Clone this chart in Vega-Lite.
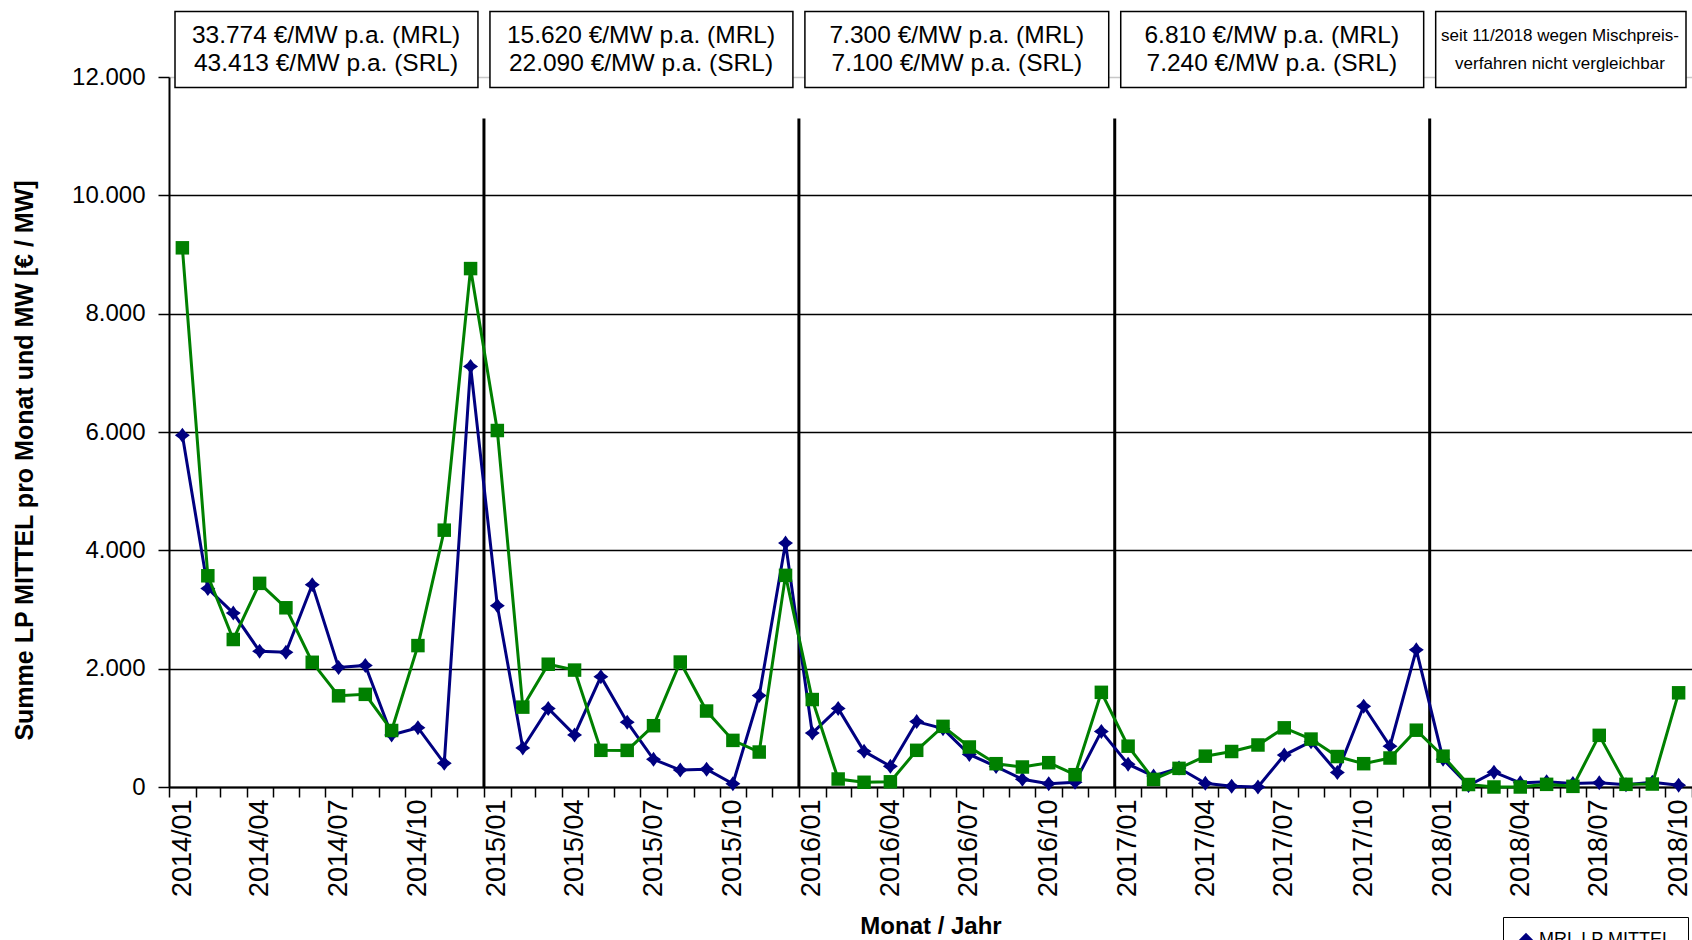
{
  "$schema": "https://vega.github.io/schema/vega-lite/v6.json",
  "width": 1523,
  "height": 710,
  "autosize": {"type": "none"},
  "padding": {"left": 169, "top": 77, "right": 0, "bottom": 153},
  "background": "white",
  "config": {
    "view": {"stroke": null},
    "font": "Liberation Sans",
    "axis": {"domainColor": "black", "tickColor": "black", "labelColor": "black", "titleColor": "black", "labelFont": "Liberation Sans", "titleFont": "Liberation Sans"},
    "axisX": {"domainWidth": 2, "tickWidth": 1.5, "tickSize": 10, "labelFontSize": 27, "labelAngle": -90, "labelPadding": 2, "grid": false, "titleFontSize": 24, "titleFontWeight": "bold", "titleY": 139, "titleBaseline": "middle", "labelOverlap": false, "labelBound": false, "labelFlush": false, "labelOffset": 13},
    "axisY": {"domainWidth": 2, "tickWidth": 1.5, "tickSize": 11, "labelFontSize": 24, "labelPadding": 13, "grid": true, "gridWidth": 1.5, "titleFontSize": 25, "titleFontWeight": "bold", "titleX": -145, "titleY": 383, "titleBaseline": "middle", "titleAlign": "center"}
  },
  "datasets": {
    "months": [
      {"date": "2014-01", "mrl": 5945, "srl": 9113},
      {"date": "2014-02", "mrl": 3355, "srl": 3570},
      {"date": "2014-03", "mrl": 2940, "srl": 2493},
      {"date": "2014-04", "mrl": 2295, "srl": 3442},
      {"date": "2014-05", "mrl": 2277, "srl": 3029},
      {"date": "2014-06", "mrl": 3420, "srl": 2108},
      {"date": "2014-07", "mrl": 2020, "srl": 1541},
      {"date": "2014-08", "mrl": 2055, "srl": 1566},
      {"date": "2014-09", "mrl": 880, "srl": 955},
      {"date": "2014-10", "mrl": 1002, "srl": 2390},
      {"date": "2014-11", "mrl": 401, "srl": 4341},
      {"date": "2014-12", "mrl": 7108, "srl": 8762},
      {"date": "2015-01", "mrl": 3065, "srl": 6025},
      {"date": "2015-02", "mrl": 660, "srl": 1350},
      {"date": "2015-03", "mrl": 1327, "srl": 2075},
      {"date": "2015-04", "mrl": 880, "srl": 1976},
      {"date": "2015-05", "mrl": 1865, "srl": 620},
      {"date": "2015-06", "mrl": 1096, "srl": 619},
      {"date": "2015-07", "mrl": 468, "srl": 1036},
      {"date": "2015-08", "mrl": 287, "srl": 2112},
      {"date": "2015-09", "mrl": 300, "srl": 1284},
      {"date": "2015-10", "mrl": 55, "srl": 788},
      {"date": "2015-11", "mrl": 1545, "srl": 591},
      {"date": "2015-12", "mrl": 4122, "srl": 3577},
      {"date": "2016-01", "mrl": 912, "srl": 1478},
      {"date": "2016-02", "mrl": 1328, "srl": 135},
      {"date": "2016-03", "mrl": 603, "srl": 80},
      {"date": "2016-04", "mrl": 350, "srl": 88},
      {"date": "2016-05", "mrl": 1105, "srl": 620},
      {"date": "2016-06", "mrl": 986, "srl": 1025},
      {"date": "2016-07", "mrl": 550, "srl": 676},
      {"date": "2016-08", "mrl": 346, "srl": 394},
      {"date": "2016-09", "mrl": 130, "srl": 338},
      {"date": "2016-10", "mrl": 56, "srl": 411},
      {"date": "2016-11", "mrl": 80, "srl": 208},
      {"date": "2016-12", "mrl": 940, "srl": 1600},
      {"date": "2017-01", "mrl": 385, "srl": 690},
      {"date": "2017-02", "mrl": 185, "srl": 128},
      {"date": "2017-03", "mrl": 320, "srl": 315},
      {"date": "2017-04", "mrl": 62, "srl": 521},
      {"date": "2017-05", "mrl": 13, "srl": 600},
      {"date": "2017-06", "mrl": 0, "srl": 710},
      {"date": "2017-07", "mrl": 540, "srl": 1000},
      {"date": "2017-08", "mrl": 765, "srl": 810},
      {"date": "2017-09", "mrl": 245, "srl": 515},
      {"date": "2017-10", "mrl": 1365, "srl": 394},
      {"date": "2017-11", "mrl": 690, "srl": 490},
      {"date": "2017-12", "mrl": 2318, "srl": 960},
      {"date": "2018-01", "mrl": 470, "srl": 521},
      {"date": "2018-02", "mrl": 25, "srl": 42},
      {"date": "2018-03", "mrl": 250, "srl": 0},
      {"date": "2018-04", "mrl": 70, "srl": 0},
      {"date": "2018-05", "mrl": 90, "srl": 45},
      {"date": "2018-06", "mrl": 60, "srl": 11},
      {"date": "2018-07", "mrl": 70, "srl": 873},
      {"date": "2018-08", "mrl": 38, "srl": 45},
      {"date": "2018-09", "mrl": 80, "srl": 50},
      {"date": "2018-10", "mrl": 30, "srl": 1592}
    ],
    "years": [
      {"date": "2015-01-01"},
      {"date": "2016-01-01"},
      {"date": "2017-01-01"},
      {"date": "2018-01-01"}
    ],
    "boxes": [
      {"kind": "price", "start": "2014-01-01", "end": "2015-01-01", "center": "2014-07-02", "label": "33.774 €/MW p.a. (MRL)\n43.413 €/MW p.a. (SRL)"},
      {"kind": "price", "start": "2015-01-01", "end": "2016-01-01", "center": "2015-07-02", "label": "15.620 €/MW p.a. (MRL)\n22.090 €/MW p.a. (SRL)"},
      {"kind": "price", "start": "2016-01-01", "end": "2017-01-01", "center": "2016-07-02", "label": "7.300 €/MW p.a. (MRL)\n7.100 €/MW p.a. (SRL)"},
      {"kind": "price", "start": "2017-01-01", "end": "2018-01-01", "center": "2017-07-02", "label": "6.810 €/MW p.a. (MRL)\n7.240 €/MW p.a. (SRL)"},
      {"kind": "note", "start": "2018-01-01", "end": "2018-11-01", "center": "2018-06-01", "label": "seit 11/2018 wegen  Mischpreis-\nverfahren nicht vergleichbar"}
    ]
  },
  "layer": [
    {
      "data": {"name": "years"},
      "mark": {"type": "rule", "color": "black", "strokeWidth": 3},
      "encoding": {
        "x": {"field": "date", "type": "temporal", "title": "Monat / Jahr", "scale": {"type": "utc", "nice": false, "domain": [{"year": 2014, "month": 1, "date": 1, "utc": true}, {"year": 2018, "month": 11, "date": 1, "utc": true}]}},
        "y": {"datum": 0, "type": "quantitative", "title": "Summe LP MITTEL pro Monat und MW [€ / MW]", "scale": {"domain": [0, 12000], "nice": false}},
        "y2": {"datum": 11300}
      }
    },
    {
      "data": {"name": "months"},
      "mark": {"type": "line", "strokeWidth": 3},
      "encoding": {
        "x": {"field": "date", "type": "temporal", "timeUnit": "utcyearmonth", "bandPosition": 0.5, "title": "Monat / Jahr",
              "scale": {"type": "utc", "nice": false, "domain": [{"year": 2014, "month": 1, "date": 1, "utc": true}, {"year": 2018, "month": 11, "date": 1, "utc": true}]},
              "axis": {"tickCount": {"interval": "month", "step": 1}, "labelExpr": "utcmonth(datum.value) % 3 == 0 ? utcFormat(datum.value, '%Y/%m') : ''"}},
        "y": {"field": "mrl", "type": "quantitative", "title": "Summe LP MITTEL pro Monat und MW [€ / MW]", "scale": {"domain": [0, 12000], "nice": false},
              "axis": {"values": [0, 2000, 4000, 6000, 8000, 10000, 12000], "labelExpr": "replace(format(datum.value, ','), ',', '.')",
                       "gridColor": {"condition": {"test": "datum.value === 12000", "value": "#c8c8c8"}, "value": "black"}}},
        "color": {"datum": "MRL LP MITTEL", "scale": {"domain": ["MRL LP MITTEL", "SRL LP MITTEL"], "range": ["#000080", "#008000"]},
                  "legend": {"orient": "none", "legendX": 1334, "legendY": 840, "title": null, "strokeColor": "black", "fillColor": "white", "padding": 14, "labelFontSize": 18, "symbolType": "diamond", "symbolSize": 150, "labelColor": "black"}}
      }
    },
    {
      "data": {"name": "months"},
      "mark": {"type": "point", "filled": true, "opacity": 1, "size": 225, "shape": "M0,-1L0.42,-0.42L1,0L0.42,0.42L0,1L-0.42,0.42L-1,0L-0.42,-0.42Z"},
      "encoding": {
        "x": {"field": "date", "type": "temporal", "timeUnit": "utcyearmonth", "bandPosition": 0.5, "title": "Monat / Jahr", "scale": {"type": "utc", "nice": false, "domain": [{"year": 2014, "month": 1, "date": 1, "utc": true}, {"year": 2018, "month": 11, "date": 1, "utc": true}]}},
        "y": {"field": "mrl", "type": "quantitative", "title": "Summe LP MITTEL pro Monat und MW [€ / MW]", "scale": {"domain": [0, 12000], "nice": false}},
        "color": {"datum": "MRL LP MITTEL"}
      }
    },
    {
      "data": {"name": "months"},
      "mark": {"type": "line", "strokeWidth": 3},
      "encoding": {
        "x": {"field": "date", "type": "temporal", "timeUnit": "utcyearmonth", "bandPosition": 0.5, "title": "Monat / Jahr", "scale": {"type": "utc", "nice": false, "domain": [{"year": 2014, "month": 1, "date": 1, "utc": true}, {"year": 2018, "month": 11, "date": 1, "utc": true}]}},
        "y": {"field": "srl", "type": "quantitative", "title": "Summe LP MITTEL pro Monat und MW [€ / MW]", "scale": {"domain": [0, 12000], "nice": false}},
        "color": {"datum": "SRL LP MITTEL"}
      }
    },
    {
      "data": {"name": "months"},
      "mark": {"type": "point", "filled": true, "opacity": 1, "size": 182, "shape": "square"},
      "encoding": {
        "x": {"field": "date", "type": "temporal", "timeUnit": "utcyearmonth", "bandPosition": 0.5, "title": "Monat / Jahr", "scale": {"type": "utc", "nice": false, "domain": [{"year": 2014, "month": 1, "date": 1, "utc": true}, {"year": 2018, "month": 11, "date": 1, "utc": true}]}},
        "y": {"field": "srl", "type": "quantitative", "title": "Summe LP MITTEL pro Monat und MW [€ / MW]", "scale": {"domain": [0, 12000], "nice": false}},
        "color": {"datum": "SRL LP MITTEL"}
      }
    },
    {
      "data": {"name": "boxes"},
      "mark": {"type": "rect", "fill": "white", "stroke": "black", "strokeWidth": 1.5, "xOffset": 6, "x2Offset": -6},
      "encoding": {
        "x": {"field": "start", "type": "temporal", "title": "Monat / Jahr", "scale": {"type": "utc", "nice": false, "domain": [{"year": 2014, "month": 1, "date": 1, "utc": true}, {"year": 2018, "month": 11, "date": 1, "utc": true}]}},
        "x2": {"field": "end"},
        "y": {"datum": 11824, "type": "quantitative", "title": "Summe LP MITTEL pro Monat und MW [€ / MW]", "scale": {"domain": [0, 12000], "nice": false}},
        "y2": {"datum": 13108}
      }
    },
    {
      "data": {"name": "boxes"},
      "transform": [{"filter": "datum.kind == 'price'"}],
      "mark": {"type": "text", "fontSize": 24.5, "lineBreak": "\n", "lineHeight": 28, "baseline": "middle", "align": "center", "color": "black"},
      "encoding": {
        "x": {"field": "center", "type": "temporal", "title": "Monat / Jahr", "scale": {"type": "utc", "nice": false, "domain": [{"year": 2014, "month": 1, "date": 1, "utc": true}, {"year": 2018, "month": 11, "date": 1, "utc": true}]}},
        "y": {"datum": 12693, "type": "quantitative", "title": "Summe LP MITTEL pro Monat und MW [€ / MW]", "scale": {"domain": [0, 12000], "nice": false}},
        "text": {"field": "label", "type": "nominal"}
      }
    },
    {
      "data": {"name": "boxes"},
      "transform": [{"filter": "datum.kind == 'note'"}],
      "mark": {"type": "text", "fontSize": 17, "lineBreak": "\n", "lineHeight": 28, "baseline": "middle", "align": "center", "color": "black"},
      "encoding": {
        "x": {"field": "center", "type": "temporal", "title": "Monat / Jahr", "scale": {"type": "utc", "nice": false, "domain": [{"year": 2014, "month": 1, "date": 1, "utc": true}, {"year": 2018, "month": 11, "date": 1, "utc": true}]}},
        "y": {"datum": 12693, "type": "quantitative", "title": "Summe LP MITTEL pro Monat und MW [€ / MW]", "scale": {"domain": [0, 12000], "nice": false}},
        "text": {"field": "label", "type": "nominal"}
      }
    }
  ]
}
